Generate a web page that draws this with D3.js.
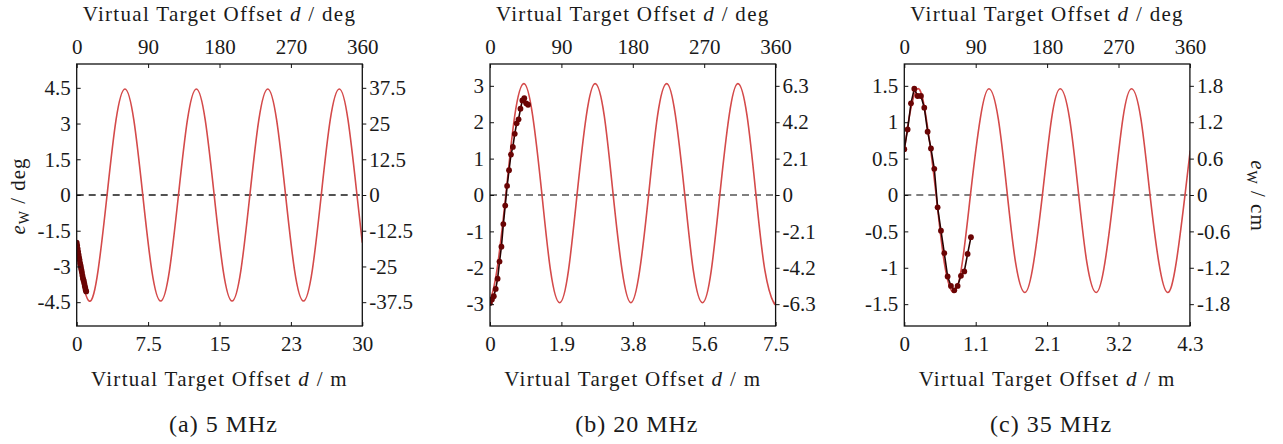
<!DOCTYPE html>
<html>
<head>
<meta charset="utf-8">
<script src="https://cdn.jsdelivr.net/npm/d3@7"></script>
<style>
  body { margin: 0; background: #fff; }
  svg text { font-family: "Liberation Serif", "Times New Roman", serif; fill: #1a1a1a; }
</style>
</head>
<body>
<svg id="fig" width="1283" height="444"></svg>
<script>
// ---------- data ----------
// offset d in metres spanning 0..360 deg for each carrier frequency
const spans = [30, 7.5, 4.2857];
const captions = ["(a) 5 MHz", "(b) 20 MHz", "(c) 35 MHz"];

// bottom (metre) axis ticks and their printed labels
const aTickM = [0, 7.5, 15, 22.5, 30];
const aTickMLabels = ["0", "7.5", "15", "23", "30"];
const bTickM = [0, 1.875, 3.75, 5.625, 7.5];
const bTickMLabels = ["0", "1.9", "3.8", "5.6", "7.5"];
const cTickM = [0, 1.0714, 2.1429, 3.2143, 4.2857];
const cTickMLabels = ["0", "1.1", "2.1", "3.2", "4.3"];

// top (degree) axis ticks
const degTicks = [0, 90, 180, 270, 360];

// left axis (deg) ticks, right axis (cm) ticks
const aLeftTicks = [4.5, 3, 1.5, 0, -1.5, -3, -4.5];
const aRightLabels = ["37.5", "25", "12.5", "0", "-12.5", "-25", "-37.5"];
const bLeftTicks = [3, 2, 1, 0, -1, -2, -3];
const bRightLabels = ["6.3", "4.2", "2.1", "0", "-2.1", "-4.2", "-6.3"];
const cLeftTicks = [1.5, 1, 0.5, 0, -0.5, -1, -1.5];
const cRightLabels = ["1.8", "1.2", "0.6", "0", "-0.6", "-1.2", "-1.8"];
const yLimits = [5.5, 3.6, 1.8];

// modelled error curve e_W(d), sampled along d
const aModelD = [0, 0.38, 1.31, 2.25, 3.19, 4.13, 5.07, 6.00, 6.94, 7.88, 8.82, 9.75, 10.69, 11.63, 12.57, 13.50, 14.44, 15.38, 16.32, 17.25, 18.19, 19.13, 20.07, 21.00, 21.94, 22.88, 23.82, 24.75, 25.69, 26.63, 27.57, 28.50, 29.44, 30];
const aModelE = [-2.00, -3.15, -4.45, -3.15, 0, 3.15, 4.45, 3.15, 0, -3.15, -4.45, -3.15, 0, 3.15, 4.45, 3.15, 0, -3.15, -4.45, -3.15, 0, 3.15, 4.45, 3.15, 0, -3.15, -4.45, -3.15, 0, 3.15, 4.45, 3.15, 0, -2.00];
const bModelD = [0, 0.18, 0.42, 0.65, 0.89, 1.12, 1.36, 1.59, 1.83, 2.06, 2.29, 2.53, 2.76, 3.00, 3.23, 3.47, 3.70, 3.93, 4.17, 4.40, 4.64, 4.87, 5.11, 5.34, 5.58, 5.81, 6.04, 6.28, 6.51, 6.75, 6.98, 7.22, 7.45, 7.5];
const bModelE = [-2.92, -2.08, 0.05, 2.18, 3.06, 2.18, 0.05, -2.08, -2.96, -2.08, 0.05, 2.18, 3.06, 2.18, 0.05, -2.08, -2.96, -2.08, 0.05, 2.18, 3.06, 2.18, 0.05, -2.08, -2.96, -2.08, 0.05, 2.18, 3.06, 2.18, 0.05, -2.08, -2.96, -2.92];
const cModelD = [0, 0.07, 0.20, 0.33, 0.47, 0.60, 0.74, 0.87, 1.00, 1.14, 1.27, 1.41, 1.54, 1.67, 1.81, 1.94, 2.08, 2.21, 2.34, 2.48, 2.61, 2.74, 2.88, 3.01, 3.15, 3.28, 3.41, 3.55, 3.68, 3.82, 3.95, 4.08, 4.22, 4.29];
const cModelE = [0.60, 1.05, 1.46, 1.05, 0.06, -0.93, -1.34, -0.93, 0.06, 1.05, 1.46, 1.05, 0.06, -0.93, -1.34, -0.93, 0.06, 1.05, 1.46, 1.05, 0.06, -0.93, -1.34, -0.93, 0.06, 1.05, 1.46, 1.05, 0.06, -0.93, -1.34, -0.93, 0.06, 0.61];

// measured offsets (m) and measured errors
const measD = [0, 0.05, 0.10, 0.15, 0.20, 0.25, 0.30, 0.35, 0.40, 0.45, 0.50, 0.55, 0.60, 0.65, 0.70, 0.75, 0.80, 0.85, 0.90, 0.95, 1.00];
const aMeas = [-2.00, -2.12, -2.25, -2.38, -2.50, -2.62, -2.72, -2.85, -2.95, -3.05, -3.15, -3.25, -3.38, -3.48, -3.55, -3.62, -3.72, -3.82, -3.90, -4.00, -4.05];
const bMeas = [-2.97, -2.87, -2.78, -2.58, -2.30, -1.83, -1.42, -0.80, -0.29, 0.25, 0.68, 1.11, 1.32, 1.68, 1.97, 2.08, 2.37, 2.60, 2.66, 2.52, 2.48];
const cMeas = [0.63, 0.90, 1.26, 1.46, 1.36, 1.36, 1.20, 0.87, 0.64, 0.36, -0.17, -0.49, -0.80, -1.12, -1.25, -1.31, -1.25, -1.11, -1.05, -0.81, -0.58];

// ---------- layout ----------
const plotLeft = [76.7, 490, 904.3];
const plotW = 285.6, plotTop = 64, plotBottom = 326;
const tickFont = 21, labelFont = 21, captionFont = 24;

const panels = [
  { span: spans[0], ylim: yLimits[0], xt: aTickM, xl: aTickMLabels, yt: aLeftTicks, y2l: aRightLabels, md: aModelD, me: aModelE, meas: aMeas, zero: "#1a1a1a" },
  { span: spans[1], ylim: yLimits[1], xt: bTickM, xl: bTickMLabels, yt: bLeftTicks, y2l: bRightLabels, md: bModelD, me: bModelE, meas: bMeas, zero: "#555" },
  { span: spans[2], ylim: yLimits[2], xt: cTickM, xl: cTickMLabels, yt: cLeftTicks, y2l: cRightLabels, md: cModelD, me: cModelE, meas: cMeas, zero: "#555" }
];

const svg = d3.select("#fig");

function labelText(sel, unit) {
  sel.append("tspan").attr("font-style", "italic").text("e");
  sel.append("tspan").attr("dy", 4).attr("font-size", 14).text("W");
  sel.append("tspan").attr("dy", -4).text(" / " + unit);
}

function titleText(sel, unit) {
  sel.append("tspan").text("Virtual Target Offset ");
  sel.append("tspan").attr("font-style", "italic").text("d");
  sel.append("tspan").text(" / " + unit);
}

panels.forEach((p, i) => {
  const g = svg.append("g").attr("transform", `translate(${plotLeft[i]},0)`);
  const x = d3.scaleLinear().domain([0, p.span]).range([0, plotW]);
  const xDeg = d3.scaleLinear().domain([0, 360]).range([0, plotW]);
  const y = d3.scaleLinear().domain([-p.ylim, p.ylim]).range([plotBottom, plotTop]);

  const clipId = "clip" + i;
  g.append("clipPath").attr("id", clipId)
    .append("rect").attr("x", 0).attr("y", plotTop).attr("width", plotW).attr("height", plotBottom - plotTop);

  const plot = g.append("g").attr("clip-path", `url(#${clipId})`);

  // zero reference
  plot.append("line")
    .attr("x1", 0).attr("x2", plotW)
    .attr("y1", y(0)).attr("y2", y(0))
    .attr("stroke", p.zero).attr("stroke-width", 1.3)
    .attr("stroke-dasharray", "7,5");

  // model curve
  const model = p.md.map((d, k) => [d, p.me[k]]);
  plot.append("path")
    .datum(model)
    .attr("fill", "none")
    .attr("stroke", "#d44a4a")
    .attr("stroke-width", 1.6)
    .attr("d", d3.line().x(d => x(d[0])).y(d => y(d[1])).curve(d3.curveNatural));

  // measurements
  const meas = measD.map((d, k) => [d, p.meas[k]]);
  plot.append("path")
    .datum(meas)
    .attr("fill", "none")
    .attr("stroke", "#2a0000")
    .attr("stroke-width", 1.6)
    .attr("d", d3.line().x(d => x(d[0])).y(d => y(d[1])));
  plot.selectAll("circle.m").data(meas).enter().append("circle")
    .attr("class", "m")
    .attr("cx", d => x(d[0])).attr("cy", d => y(d[1]))
    .attr("r", 2.9).attr("fill", "#6a0404");

  // frame
  g.append("rect")
    .attr("x", 0).attr("y", plotTop).attr("width", plotW).attr("height", plotBottom - plotTop)
    .attr("fill", "none").attr("stroke", "#111").attr("stroke-width", 1.3);

  const styleAxis = (ax) => {
    ax.attr("font-size", tickFont);
    ax.select(".domain").remove();
    ax.selectAll(".tick line").attr("stroke", "#111").attr("stroke-width", 1);
    ax.selectAll(".tick text").attr("fill", "#1a1a1a");
  };

  // bottom metre axis
  const xb = g.append("g").attr("transform", `translate(0,${plotBottom})`)
    .call(d3.axisBottom(x).tickValues(p.xt).tickSize(-4).tickPadding(10)
      .tickFormat((d, k) => p.xl[k]));
  styleAxis(xb);

  // top degree axis
  const xt = g.append("g").attr("transform", `translate(0,${plotTop})`)
    .call(d3.axisTop(xDeg).tickValues(degTicks).tickSize(-4).tickPadding(10)
      .tickFormat(d3.format("d")));
  styleAxis(xt);

  // left axis
  const yl = g.append("g")
    .call(d3.axisLeft(y).tickValues(p.yt).tickSize(-4).tickPadding(6)
      .tickFormat(d => String(d)));
  styleAxis(yl);

  // right axis (scaled units)
  const yr = g.append("g").attr("transform", `translate(${plotW},0)`)
    .call(d3.axisRight(y).tickValues(p.yt).tickSize(4).tickPadding(3)
      .tickFormat((d, k) => p.y2l[k]));
  styleAxis(yr);

  // axis titles and caption
  g.append("text").attr("x", plotW / 2).attr("y", 21).attr("text-anchor", "middle")
    .attr("font-size", labelFont).attr("letter-spacing", 1.3).call(titleText, "deg");
  g.append("text").attr("x", plotW / 2).attr("y", 386).attr("text-anchor", "middle")
    .attr("font-size", labelFont).attr("letter-spacing", 1.3).call(titleText, "m");
  g.append("text").attr("x", plotW / 2 + 4).attr("y", 432).attr("text-anchor", "middle")
    .attr("font-size", captionFont).attr("letter-spacing", 1).text(captions[i]);
});

// y-axis titles
svg.append("text")
  .attr("transform", "translate(25,196) rotate(-90)")
  .attr("text-anchor", "middle").attr("font-size", labelFont).attr("letter-spacing", 1)
  .call(labelText, "deg");
svg.append("text")
  .attr("transform", "translate(1251,196) rotate(90)")
  .attr("text-anchor", "middle").attr("font-size", labelFont).attr("letter-spacing", 1)
  .call(labelText, "cm");
</script>
</body>
</html>
